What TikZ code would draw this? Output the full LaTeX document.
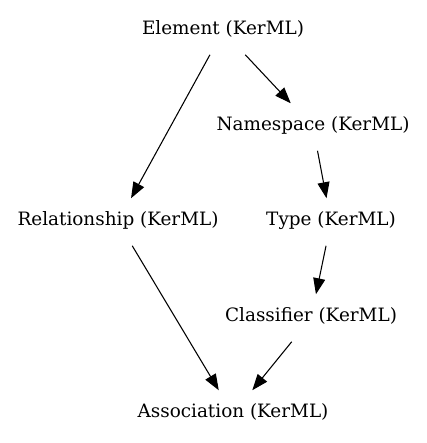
\documentclass[tikz,border=0pt]{standalone}
\usepackage{fontspec}
\setmainfont{DejaVu Serif}
\usetikzlibrary{arrows.meta}
\begin{document}
\begin{tikzpicture}[x=0.75pt,y=-0.75pt,
  kind/.style={inner sep=0pt,text height=20.25pt,text depth=15pt,font=\fontsize{13.8pt}{16pt}\selectfont},
  gen/.style={-{Triangle[length=12pt,width=9pt]},line width=0.8pt}]
\useasboundingbox (0,0) rectangle (427,443);
\node[kind] (elem) at (223,31) {Element (KerML)};
\node[kind] (ns) at (313,127) {Namespace (KerML)};
\node[kind] (rel) at (118,222) {Relationship (KerML)};
\node[kind] (type) at (331,222) {Type (KerML)};
\node[kind] (cls) at (311,318) {Classifier (KerML)};
\node[kind] (assoc) at (233,414) {Association (KerML)};

\draw[gen] (elem) -- (rel);
\draw[gen] (elem) -- (ns);
\draw[gen] (ns) -- (type);
\draw[gen] (type) -- (cls);
\draw[gen] (rel) -- (assoc);
\draw[gen] (cls) -- (assoc);
\end{tikzpicture}
\end{document}
